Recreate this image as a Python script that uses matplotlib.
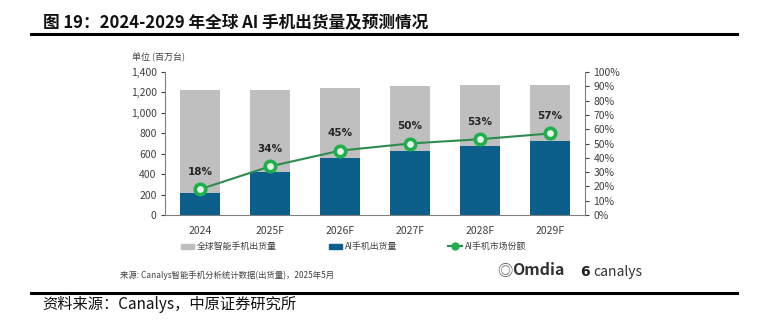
import numpy as np
import matplotlib
matplotlib.use("Agg")
import matplotlib.pyplot as plt
from matplotlib.lines import Line2D
from matplotlib.patches import Patch

plt.rcParams['font.family'] = ['Noto Sans CJK SC', 'DejaVu Sans']

# data
years = ["2024", "2025F", "2026F", "2027F", "2028F", "2029F"]
total_ship = [1220, 1220, 1240, 1260, 1270, 1270]   # 全球智能手机出货量 (百万台)
ai_ship = [215, 418, 555, 630, 675, 720]            # AI手机出货量
ai_share = [18, 34, 45, 50, 53, 57]                 # AI手机市场份额 (%)

gray = "#BFBFBF"
blue = "#0B5F8A"
green = "#2E8B4F"
mgreen = "#1FAF4B"

fig = plt.figure(figsize=(7.65, 3.3), dpi=100)
ax = fig.add_axes([0.2157, 0.3485, 0.549, 0.4333])
x = np.arange(len(years))
w = 0.56

ax.bar(x, total_ship, width=w, color=gray, zorder=1)
ax.bar(x, ai_ship, width=w, color=blue, zorder=2)
ax.set_xlim(-0.5, len(years) - 0.5)
ax.set_ylim(0, 1400)
ax.set_yticks(range(0, 1401, 200))
ax.set_yticklabels([f"{v:,}" for v in range(0, 1401, 200)])
ax.set_xticks(x)
ax.set_xticklabels(years)
ax.tick_params(axis='y', labelsize=7.5, colors='#404040', length=3, pad=3)
ax.tick_params(axis='x', labelsize=7.5, colors='#404040', length=0, pad=8)
for s in ['top', 'right']:
    ax.spines[s].set_visible(False)
ax.spines['left'].set_color('#808080')
ax.spines['bottom'].set_color('#808080')

ax2 = ax.twinx()
ax2.plot(x, ai_share, color=green, lw=1.5, marker='o', ms=7.5,
         mec=mgreen, mfc='#E6F7EA', mew=2.6, zorder=5)
ax2.set_ylim(0, 100)
ax2.set_yticks(range(0, 101, 10))
ax2.set_yticklabels([f"{v}%" for v in range(0, 101, 10)])
ax2.tick_params(axis='y', labelsize=7.5, colors='#404040', length=3, pad=3)
for s in ['top', 'left', 'bottom']:
    ax2.spines[s].set_visible(False)
ax2.spines['right'].set_color('#808080')
for xi, v in zip(x, ai_share):
    ax2.annotate(f"{v}%", (xi, v), xytext=(0, 9), textcoords='offset points',
                 ha='center', va='bottom', fontsize=7.5, fontweight='bold',
                 color='#262626', family=['DejaVu Sans'])

handles = [Patch(color=gray), Patch(color=blue),
           Line2D([0], [0], color=green, lw=1.5, marker='o', ms=5,
                  mec=mgreen, mfc=mgreen)]
labels = ["全球智能手机出货量", "AI手机出货量", "AI手机市场份额"]
fig.legend(handles, labels, loc='center', bbox_to_anchor=(0.462, 0.252),
           ncol=3, frameon=False, fontsize=6.4, handlelength=1.5,
           handleheight=0.5, handletextpad=0.3, columnspacing=5.8,
           labelcolor='#404040')

fig.text(0.173, 0.825, "单位 (百万台)", fontsize=6.5, color='#404040', va='center')
fig.text(0.157, 0.167, "来源: Canalys智能手机分析统计数据(出货量)，2025年5月",
         fontsize=6, color='#404040', va='center')
# logos, drawn as text
fig.text(0.660, 0.176, "◎", fontsize=11, color='#555555', va='center', ha='center')
fig.text(0.669, 0.181, "Omdia", fontsize=11.5, fontweight='bold', color='#333333', va='center')
fig.text(0.764, 0.176, "6", fontsize=10, fontweight='bold', color='#222222', va='center',
         ha='center', family=['DejaVu Sans'])
fig.text(0.776, 0.176, "canalys", fontsize=10, color='#333333', va='center')

# header / footer
fig.text(0.056, 0.931, "图 19：2024-2029 年全球 AI 手机出货量及预测情况",
         fontsize=12, fontweight='bold', color='#111111', va='center')
fig.add_artist(Line2D([31 / 765, 737 / 765], [1 - 34 / 330] * 2, color='black', lw=2.2))
fig.add_artist(Line2D([31 / 765, 737 / 765], [1 - 292.5 / 330] * 2, color='black', lw=2.2))
fig.text(0.055, 0.076, "资料来源：Canalys，中原证券研究所", fontsize=11,
         color='#111111', va='center')

fig.savefig("out.png", dpi=100)
